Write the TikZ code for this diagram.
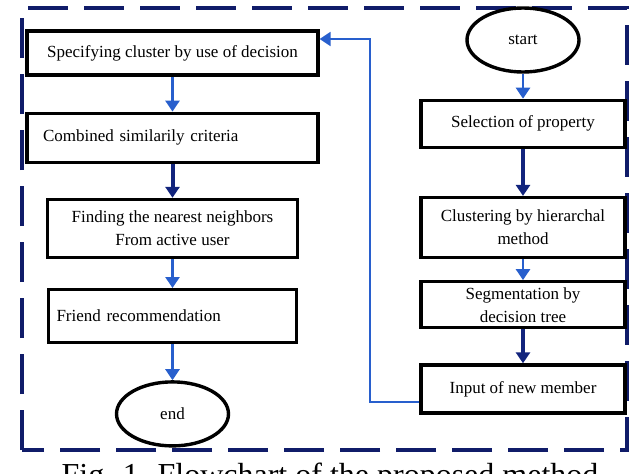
\documentclass[tikz,border=0pt]{standalone}
\usepackage{fontspec}
\setmainfont{Liberation Serif}
\usetikzlibrary{arrows.meta,positioning,shapes.geometric}
\definecolor{framenavy}{RGB}{16,28,105}
\definecolor{lnkblue}{RGB}{40,95,205}
\definecolor{lnknavy}{RGB}{18,36,125}

\begin{document}
\begin{tikzpicture}[
  x=1pt, y=-1pt,
  font=\fontsize{17}{23}\selectfont,
  >={Triangle[length=11pt,width=14pt]},
  box/.style   ={draw, line width=3.2pt, fill=white, align=center, inner sep=2pt},
  term/.style  ={draw, ellipse, line width=3.4pt, fill=white, minimum width=112pt, minimum height=64pt, inner sep=0pt},
  lnk/.style   ={->, line width=2.6pt, lnkblue},
  dark/.style  ={->, line width=4pt, lnknavy},
  back/.style  ={->, line width=1.8pt, lnkblue},
  frame/.style ={draw=framenavy, line width=4pt, dash pattern=on 40pt off 16pt},
]
\useasboundingbox (0,0) rectangle (632,474);
\clip (0,0) rectangle (632,474);

%% ---------------- dashed frame ----------------
\draw[frame] (22,450) -- (22,8) -- (627,8) -- (627,450) -- cycle;

%% ---------------- left column ----------------
\node[box, minimum width=291pt, minimum height=44pt] (spec) at (172.5,53)
  {Specifying cluster by use of decision};
\node[box, below=35pt of spec, text width=259pt, inner xsep=16pt, minimum height=49pt, align=left] (comb)
  {Combined similarily criteria};
\node[box, below=34pt of comb, minimum width=250pt, minimum height=58pt] (near)
  {Finding the nearest neighbors\\ From active user};
\node[box, below=29pt of near, text width=232pt, inner xsep=8pt, minimum height=53pt, align=left] (friend)
  {Friend recommendation};
\node[term, below=36pt of friend] (finish) {end};

%% ---------------- right column ----------------
\node[term] (start) at (523,40) {start};
\node[box, below=25pt of start, minimum width=204pt, minimum height=47pt] (sel) {Selection of property};
\node[box, below=47pt of sel, minimum width=204pt, minimum height=60pt] (clus) {Clustering by hierarchal\\ method};
\node[box, below=21pt of clus, minimum width=204pt, minimum height=46pt] (seg) {Segmentation by\\ decision tree};
\node[box, below=34pt of seg, minimum width=204pt, minimum height=48pt] (inp) {Input of new member};

%% ---------------- connectors ----------------
\foreach \a/\b in {spec/comb, near/friend, friend/finish, start/sel, clus/seg}{\draw[lnk] (\a) -- (\b);}
\foreach \a/\b in {comb/near, sel/clus, seg/inp}{\draw[dark] (\a) -- (\b);}

\coordinate (turn) at (370,39);
\draw[back] ([yshift=-13pt]inp.west) -| (turn) -- (turn -| spec.east);

%% ---------------- caption ----------------
\node[font=\fontsize{32}{36}\selectfont, anchor=base] (cap) at (330,485)
  {Fig. 1. Flowchart of the proposed method};

\end{tikzpicture}
\end{document}
